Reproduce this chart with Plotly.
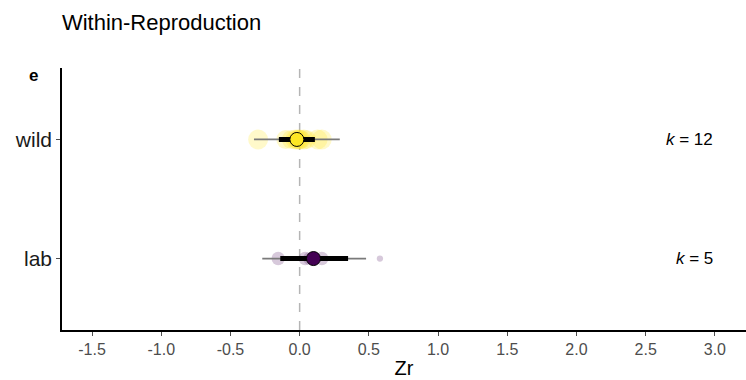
import plotly.graph_objects as go
import numpy as np

# Moderator levels (bottom to top)
groups = ["lab", "wild"]
group_pos = [1, 2]
k_values = [5, 12]

# Model estimates per group: mean, 95% CI, 95% PI
est_mean = [0.10, -0.02]
ci_low = [-0.14, -0.15]
ci_high = [0.35, 0.11]
pi_low = [-0.27, -0.33]
pi_high = [0.48, 0.29]

# Individual effect sizes (Zr) and their precision (1/SE)
lab_zr = [-0.155, 0.04, 0.07, 0.16, 0.58]
lab_prec = [4.5, 4.5, 4.0, 4.5, 1.0]
wild_zr = [-0.30, -0.10, -0.06, -0.03, -0.02, -0.01, 0.00, 0.01, 0.03, 0.05, 0.13, 0.16]
wild_prec = [10, 9, 9, 10, 9, 10, 10, 9, 10, 9, 10, 10]

fill_solid = ["#440154", "#FDE725"]
fill_soft = ["rgba(68,1,84,0.3)", "rgba(253,231,37,0.35)"]

font_main = "Liberation Sans, Arial, sans-serif"

fig = go.Figure()

# Individual effect sizes, sized by precision
for zr, prec, pos, col in [(lab_zr, lab_prec, 1, fill_soft[0]), (wild_zr, wild_prec, 2, fill_soft[1])]:
    fig.add_trace(go.Scatter(
        x=zr, y=[pos] * len(zr), mode="markers",
        marker=dict(size=[6.3 * np.sqrt(p) for p in prec], color=col, line=dict(width=0)),
        hoverinfo="x", showlegend=False))

# Prediction intervals (thin) and confidence intervals (thick)
for i, pos in enumerate(group_pos):
    fig.add_trace(go.Scatter(
        x=[pi_low[i], pi_high[i]], y=[pos, pos], mode="lines",
        line=dict(color="#7a7a7a", width=1.8), showlegend=False, hoverinfo="skip"))
    fig.add_trace(go.Scatter(
        x=[ci_low[i], ci_high[i]], y=[pos, pos], mode="lines",
        line=dict(color="black", width=5), showlegend=False, hoverinfo="skip"))

# Group means
fig.add_trace(go.Scatter(
    x=est_mean, y=group_pos, mode="markers",
    marker=dict(size=14, color=fill_solid, line=dict(color="black", width=1)),
    showlegend=False))

# Reference line at zero
fig.add_shape(type="line", x0=0, x1=0, y0=0, y1=1, xref="x", yref="paper",
              line=dict(color="#b5b5b5", width=1.5, dash="dash"), layer="below")

# Number of effect sizes per group
for pos, k in zip(group_pos, k_values):
    fig.add_annotation(x=3.0, y=pos, xref="x", yref="y", xanchor="right", yanchor="middle",
                       text=f"<i>k</i> = {k}", showarrow=False,
                       font=dict(family=font_main, size=17, color="black"))

# Panel tag
fig.add_annotation(x=-0.051, y=0.973, xref="paper", yref="paper", xanchor="left", yanchor="middle",
                   text="<b>e</b>", showarrow=False,
                   font=dict(family=font_main, size=17, color="black"))

fig.update_layout(
    width=746, height=380,
    margin=dict(l=62, r=0, t=68, b=50),
    plot_bgcolor="white", paper_bgcolor="white",
    title=dict(text="Within-Reproduction", x=0.083, xanchor="left", y=0.942, yanchor="middle",
               font=dict(family=font_main, size=22, color="black")),
    xaxis=dict(range=[-1.717, 3.225], tickvals=[-1.5, -1.0, -0.5, 0.0, 0.5, 1.0, 1.5, 2.0, 2.5, 3.0],
               ticktext=["-1.5", "-1.0", "-0.5", "0.0", "0.5", "1.0", "1.5", "2.0", "2.5", "3.0"],
               ticks="outside", ticklen=4, tickcolor="#4d4d4d", tickwidth=1,
               showline=True, linecolor="black", linewidth=1.6, showgrid=False, zeroline=False,
               tickfont=dict(family=font_main, size=16, color="#4d4d4d"),
               title=dict(text="Zr", font=dict(family=font_main, size=20, color="black"), standoff=4)),
    yaxis=dict(range=[0.4, 2.6], tickvals=group_pos, ticktext=groups,
               ticks="outside", ticklen=4, tickcolor="#4d4d4d", tickwidth=1,
               showline=True, linecolor="black", linewidth=1.6, showgrid=False, zeroline=False,
               tickfont=dict(family=font_main, size=21, color="#1a1a1a")),
)

fig.write_html("out.html")
